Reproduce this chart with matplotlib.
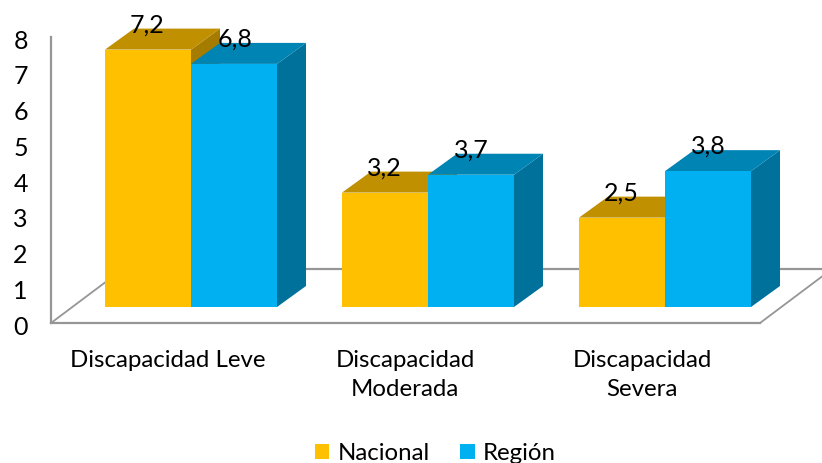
import numpy as np
import matplotlib.pyplot as plt
from matplotlib.patches import Patch, Polygon
from matplotlib.transforms import ScaledTranslation

plt.rcParams['font.family'] = ['Lato', 'DejaVu Sans']

categories = ['Discapacidad Leve', 'Discapacidad\nModerada', 'Discapacidad\nSevera']
nacional = [7.2, 3.2, 2.5]
region = [6.8, 3.7, 3.8]
value_labels_nac = ['7,2', '3,2', '2,5']
value_labels_reg = ['6,8', '3,7', '3,8']
y_ticks = [0, 1, 2, 3, 4, 5, 6, 7, 8]

W, H = 822, 463
PX_X = 237.0   # pixels per category
PX_Y = 35.75   # pixels per unit
bar_w = 86 / PX_X
dx = 29 / PX_X
dy = 21 / PX_Y
base = 16 / PX_Y


# Draw one fake 3d bar, front face then top and side
def bar3d(ax, x, val, front, top, side):
    y0 = base
    y1 = base + val
    ax.add_patch(Polygon([(x + bar_w, y0), (x + bar_w + dx, y0 + dy), (x + bar_w + dx, y1 + dy), (x + bar_w, y1)],
                         facecolor=side, edgecolor='none'))
    ax.add_patch(Polygon([(x, y1), (x + dx, y1 + dy), (x + bar_w + dx, y1 + dy), (x + bar_w, y1)],
                         facecolor=top, edgecolor='none'))
    ax.add_patch(Polygon([(x, y0), (x + bar_w, y0), (x + bar_w, y1), (x, y1)],
                         facecolor=front, edgecolor='none'))


fig = plt.figure(figsize=(W / 100, H / 100), dpi=100)
ax = fig.add_axes([0, 0, 1, 1])
ax.set_xlim(-191 / PX_X, (W - 191) / PX_X)
ax.set_ylim((323 - H) / PX_Y, 323 / PX_Y)
for s in ax.spines.values():
    s.set_visible(False)
ax.set_xticks([])
ax.set_yticks(y_ticks)
ax.tick_params(axis='y', length=0, pad=-20, labelsize=18, labelcolor='black')
# numbers sit a little under their level in the original
for lab in ax.get_yticklabels():
    lab.set_transform(lab.get_transform() + ScaledTranslation(0, -1.5 / 72, fig.dpi_scale_trans))

# Floor and wall lines
grey = '#969696'
x_left = -140 / PX_X
x_right = 569 / PX_X
ax.plot([x_left, x_left], [0, 8], color=grey, lw=1.6, zorder=1)
ax.plot([x_left, x_right], [0, 0], color=grey, lw=1.6, zorder=1)
ax.plot([x_left, x_left + 72 / PX_X], [0, 54 / PX_Y], color=grey, lw=1.3, zorder=1)
ax.plot([x_right, x_right + 72 / PX_X], [0, 54 / PX_Y], color=grey, lw=1.3, zorder=1)
ax.plot([x_left + 72 / PX_X, x_right + 72 / PX_X], [54 / PX_Y, 54 / PX_Y], color=grey, lw=1.6, zorder=1)

for i in range(len(categories)):
    bar3d(ax, i - bar_w, nacional[i], '#FFC000', '#C09000', '#A67C00')
    bar3d(ax, i, region[i], '#00B0F0', '#0084B4', '#00719B')

for i in range(len(categories)):
    ax.text(i - bar_w / 2 - 0.003, base + nacional[i] + 25 / PX_Y, value_labels_nac[i],
            ha='center', va='center', fontsize=18, color='black')
    ax.text(i + bar_w / 2 + 0.003, base + region[i] + 25 / PX_Y, value_labels_reg[i],
            ha='center', va='center', fontsize=18, color='black')
    ax.text(i - 23 / PX_X, -27 / PX_Y, categories[i], ha='center', va='top', fontsize=17.3,
            color='black', linespacing=1.48)

handles = [Patch(facecolor='#FFC000', label='Nacional'), Patch(facecolor='#00B0F0', label='Región')]
ax.legend(handles=handles, ncols=2, frameon=False, loc='center', bbox_to_anchor=(435 / W, 1 - 453.5 / H),
          fontsize=17.3, handlelength=0.62, handleheight=0.62, handletextpad=0.33, columnspacing=1.25,
          borderpad=0, borderaxespad=0)

fig.savefig('out.png', dpi=100)
